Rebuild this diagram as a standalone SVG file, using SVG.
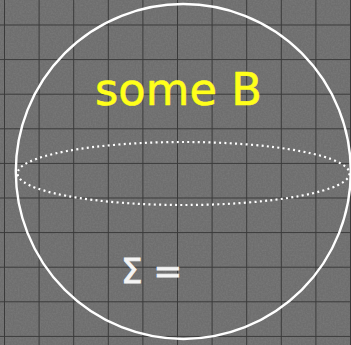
<svg xmlns="http://www.w3.org/2000/svg" width="351" height="345" viewBox="0 0 351 345">
  <defs>
    <filter id="noise" x="0" y="0" width="100%" height="100%">
      <feTurbulence type="fractalNoise" baseFrequency="0.6" numOctaves="2" seed="3" result="t"/>
      <feColorMatrix in="t" type="matrix" values="0 0 0 0 0.45  0 0 0 0 0.45  0 0 0 0 0.45  1 0 0 0 -0.3" result="n"/>
      <feComposite in="n" in2="SourceGraphic" operator="in"/>
    </filter>
    <pattern id="grid" x="4" y="24.5" width="34.6" height="34.6" patternUnits="userSpaceOnUse">
      <path d="M0 0 H34.6 M0 0 V34.6" fill="none" stroke="#3a3a3a" stroke-width="2"/>
    </pattern>
  </defs>
  <style>
    .line { fill: none; stroke: #ffffff; }
    .label { font-family: "DejaVu Sans", "Liberation Sans", sans-serif; }
  </style>
  <g id="background">
    <rect width="351" height="345" fill="#6e6e6e"/>
    <rect width="351" height="345" fill="#6e6e6e" filter="url(#noise)" opacity="0.25"/>
    <rect width="351" height="345" fill="url(#grid)"/>
  </g>
  <g id="sphere">
    <circle class="line" cx="183.3" cy="171.5" r="167.5" stroke-width="2.4"/>
    <ellipse class="line" cx="183.5" cy="173.5" rx="166" ry="31.5" stroke-width="2.2" stroke-dasharray="2 3.3"/>
  </g>
  <g id="label-some-b">
    <text class="label" x="95" y="105" font-size="45" fill="#ffff1a" stroke="#ffff1a" stroke-width="0.6" textLength="167" lengthAdjust="spacingAndGlyphs">some B</text>
  </g>
  <g id="label-sigma">
    <text class="label" x="121" y="283" font-size="34" fill="#f4f4f4" stroke="#f4f4f4" stroke-width="0.8" textLength="61" lengthAdjust="spacingAndGlyphs">Σ =</text>
  </g>
</svg>
